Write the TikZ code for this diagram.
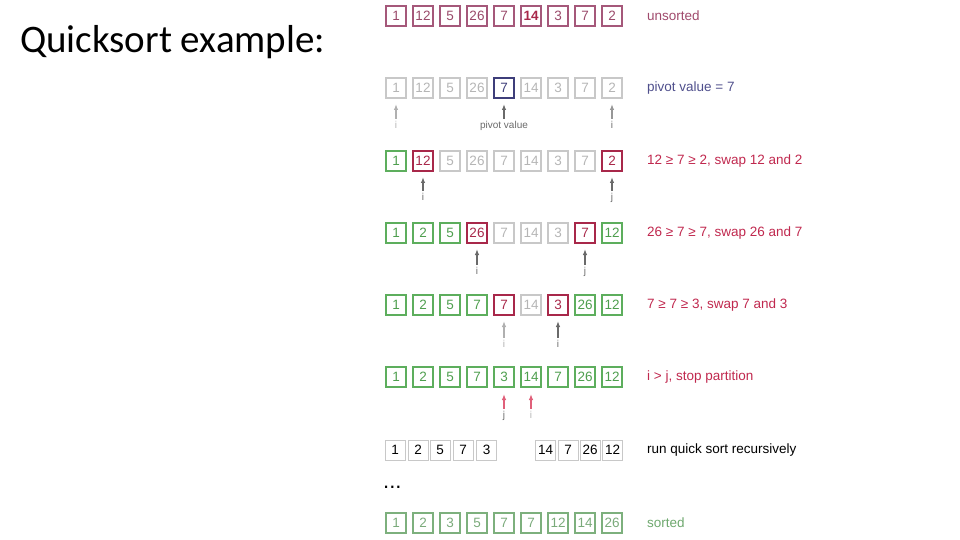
\documentclass[tikz,border=0pt]{standalone}
\usepackage{fontspec}
\setmainfont{Liberation Sans}
\newfontfamily\titlefont{Carlito}
\usetikzlibrary{arrows.meta}
\definecolor{usB}{HTML}{A5587A}
\definecolor{usT}{HTML}{9A4A6A}
\definecolor{pvB}{HTML}{3E3E7A}
\definecolor{grB}{HTML}{C8C8C8}
\definecolor{grT}{HTML}{B5B5B5}
\definecolor{gnB}{HTML}{5DAE5D}
\definecolor{gnT}{HTML}{4E9E4E}
\definecolor{rdB}{HTML}{A8284A}
\definecolor{soB}{HTML}{7DB07D}
\definecolor{soT}{HTML}{7AAA7A}
\definecolor{lblUS}{HTML}{A04A6C}
\definecolor{lblPV}{HTML}{4F4F8C}
\definecolor{lblRD}{HTML}{C0284E}
\definecolor{lblSO}{HTML}{6EA86E}
\definecolor{arD}{HTML}{6A6A6A}
\definecolor{arL}{HTML}{B0B0B0}
\definecolor{arR}{HTML}{E0607A}
\tikzset{
  bx/.style={draw, minimum width=20pt, minimum height=20pt, inner sep=0pt, line width=1.1pt, font=\fontsize{13.5}{14}\selectfont},
  us/.style={bx, draw=usB, text=usT},
  usb/.style={bx, draw=usB, text=rdB, font=\fontsize{13.5}{14}\selectfont\bfseries},
  pv/.style={bx, draw=pvB, text=pvB},
  gr/.style={bx, draw=grB, text=grT},
  gn/.style={bx, draw=gnB, text=gnT},
  rd/.style={bx, draw=rdB, text=rdB},
  so/.style={bx, draw=soB, text=soT},
  bk/.style={bx, draw=grB, text=black, line width=0.9pt},
  rowlbl/.style={anchor=west, inner sep=0pt, font=\fontsize{13.5}{14}\selectfont},
  ptr/.style={anchor=north, inner sep=0pt, text height=7.5pt, text depth=2pt, font=\fontsize{10}{11}\selectfont},
  arr/.style={-{Latex[length=6pt,width=4.5pt]}, line width=1.2pt, shorten <=2pt}
}
\begin{document}
\begin{tikzpicture}[x=1pt,y=-1pt]
\useasboundingbox (0,0) rectangle (960,540);
\node[anchor=base west, inner sep=0pt, font=\titlefont\fontsize{39}{42}\selectfont] (title) at (20,53) {Quicksort example:};

% row 1
\foreach \v/\s [count=\i] in {1/us,12/us,5/us,26/us,7/us,14/usb,3/us,7/us,2/us}
  \node[\s] (ra\i) at ({396+27*(\i-1)},16) {\v};
\node[rowlbl, text=lblUS] (la) at (647,16) {unsorted};

% row 2
\foreach \v/\s [count=\i] in {1/gr,12/gr,5/gr,26/gr,7/pv,14/gr,3/gr,7/gr,2/gr}
  \node[\s] (rb\i) at ({396+27*(\i-1)},88) {\v};
\node[rowlbl, text=lblPV] (lb) at (647,88) {pivot value = 7};
\coordinate (tb1) at (396,104); \coordinate (tb5) at (504,104); \coordinate (tb9) at (612,104);
\node[ptr, text=grT] (pb1) at (396,121) {i};
\node[ptr, text=arD] (pb5) at (504,121) {pivot value};
\node[ptr, text=arD] (pb9) at (612,121) {i};
\draw[arr, arL] (pb1.north) -- (tb1);
\draw[arr, arD] (pb5.north) -- (tb5);
\draw[arr, arD!70] (pb9.north) -- (tb9);

% row 3
\foreach \v/\s [count=\i] in {1/gn,12/rd,5/gr,26/gr,7/gr,14/gr,3/gr,7/gr,2/rd}
  \node[\s] (rc\i) at ({396+27*(\i-1)},161) {\v};
\node[rowlbl, text=lblRD] (lc) at (647,161) {12 ≥ 7 ≥ 2, swap 12 and 2};
\coordinate (tc2) at (423,177); \coordinate (tc9) at (612,177);
\node[ptr, text=arD] (pc2) at (423,193) {i};
\node[ptr, text=arD] (pc9) at (612,193) {j};
\draw[arr, arD] (pc2.north) -- (tc2);
\draw[arr, arD] (pc9.north) -- (tc9);

% row 4
\foreach \v/\s [count=\i] in {1/gn,2/gn,5/gn,26/rd,7/gr,14/gr,3/gr,7/rd,12/gn}
  \node[\s] (rd\i) at ({396+27*(\i-1)},233) {\v};
\node[rowlbl, text=lblRD] (ld) at (647,233) {26 ≥ 7 ≥ 7, swap 26 and 7};
\coordinate (td4) at (477,249); \coordinate (td8) at (585,249);
\node[ptr, text=arD] (pd4) at (477,267) {i};
\node[ptr, text=arD] (pd8) at (585,267) {j};
\draw[arr, arD] (pd4.north) -- (td4);
\draw[arr, arD] (pd8.north) -- (td8);

% row 5
\foreach \v/\s [count=\i] in {1/gn,2/gn,5/gn,7/gn,7/rd,14/gr,3/rd,26/gn,12/gn}
  \node[\s] (re\i) at ({396+27*(\i-1)},305) {\v};
\node[rowlbl, text=lblRD] (le) at (647,305) {7 ≥ 7 ≥ 3, swap 7 and 3};
\coordinate (te5) at (504,321); \coordinate (te7) at (558,321);
\node[ptr, text=arL] (pe5) at (504,340) {i};
\node[ptr, text=arD] (pe7) at (558,340) {i};
\draw[arr, arL] (pe5.north) -- (te5);
\draw[arr, arD] (pe7.north) -- (te7);

% row 6
\foreach \v/\s [count=\i] in {1/gn,2/gn,5/gn,7/gn,3/gn,14/gn,7/gn,26/gn,12/gn}
  \node[\s] (rf\i) at ({396+27*(\i-1)},377) {\v};
\node[rowlbl, text=lblRD] (lf) at (647,377) {i > j, stop partition};
\coordinate (tf5) at (504,394); \coordinate (tf6) at (531,394);
\node[ptr, text=arD] (pf5) at (504,411) {j};
\node[ptr, text=grT] (pf6) at (531,411) {i};
\draw[arr, arR] (pf5.north) -- (tf5);
\draw[arr, arR] (pf6.north) -- (tf6);

% row 7
\foreach \v/\x [count=\i] in {1/395,2/418,5/440,7/463,3/486.5,14/545.5,7/568,26/590,12/612.5}
  \node[bk] (rg\i) at (\x,450) {\v};
\node[rowlbl, text=black] (lg) at (647,450) {run quick sort recursively};

% dots
\node[anchor=base west, inner sep=0pt, font=\fontsize{22}{24}\selectfont] (dots) at (383,488) {...};

% row 8
\foreach \v [count=\i] in {1,2,3,5,7,7,12,14,26}
  \node[so] (rh\i) at ({396+27*(\i-1)},523) {\v};
\node[rowlbl, text=lblSO] (lh) at (647,523) {sorted};
\end{tikzpicture}
\end{document}
